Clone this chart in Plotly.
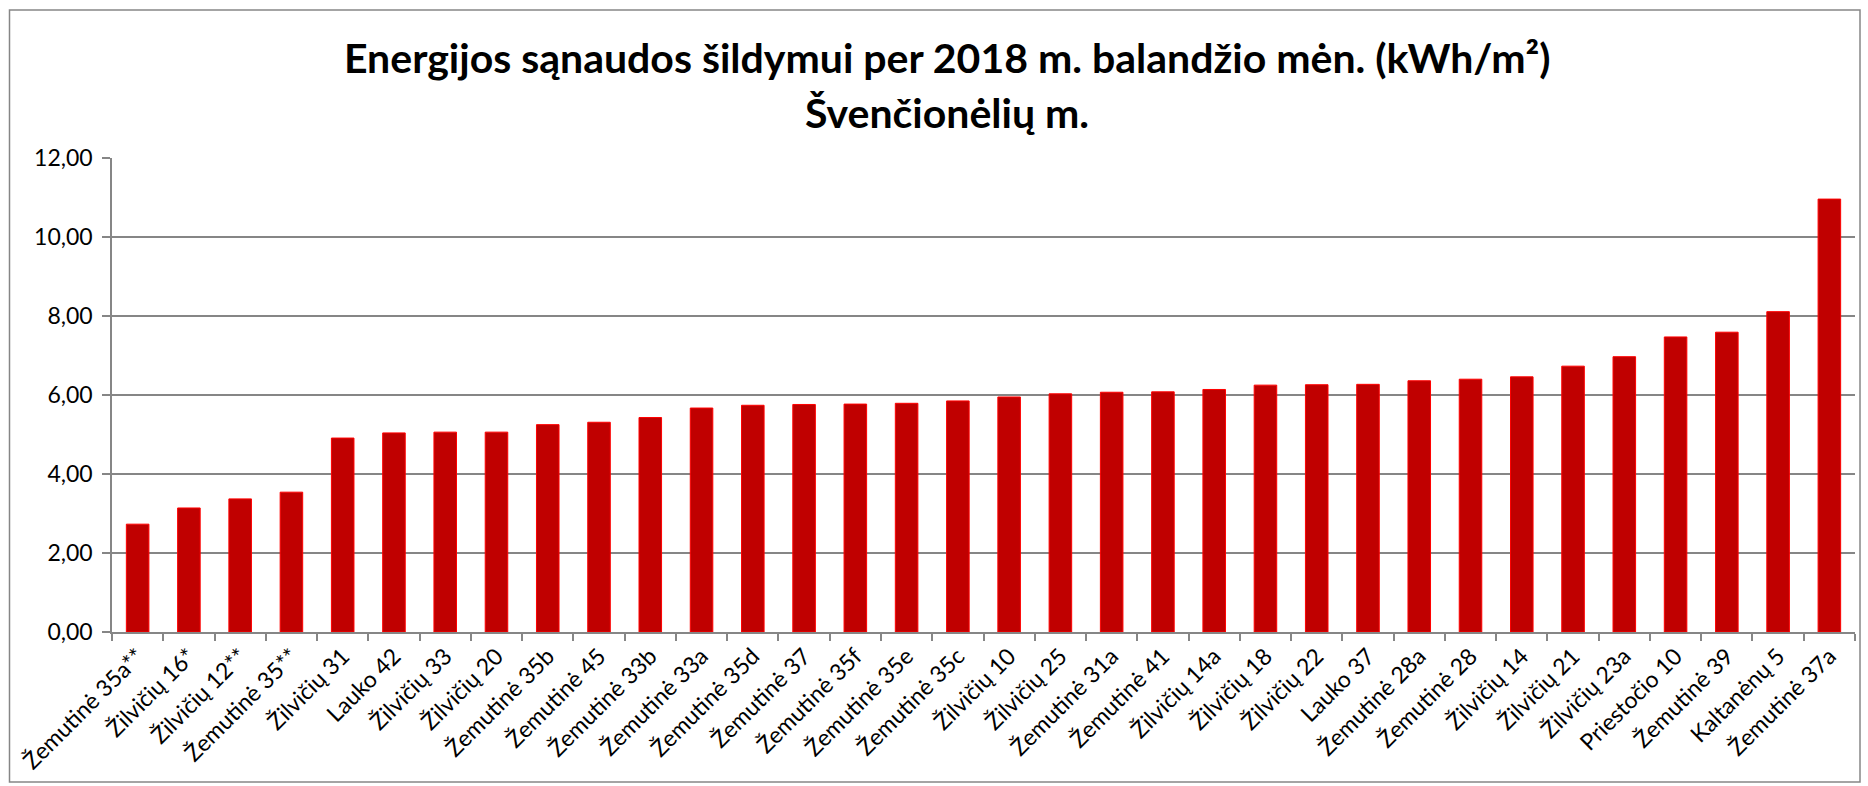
import plotly.graph_objects as go

categories = ["Žemutinė 35a**", "Žilvičių 16*", "Žilvičių 12**", "Žemutinė 35**", "Žilvičių 31",
              "Lauko 42", "Žilvičių 33", "Žilvičių 20", "Žemutinė 35b", "Žemutinė 45",
              "Žemutinė 33b", "Žemutinė 33a", "Žemutinė 35d", "Žemutinė 37", "Žemutinė 35f",
              "Žemutinė 35e", "Žemutinė 35c", "Žilvičių 10", "Žilvičių 25", "Žemutinė 31a",
              "Žemutinė 41", "Žilvičių 14a", "Žilvičių 18", "Žilvičių 22", "Lauko 37",
              "Žemutinė 28a", "Žemutinė 28", "Žilvičių 14", "Žilvičių 21", "Žilvičių 23a",
              "Priestočio 10", "Žemutinė 39", "Kaltanėnų 5", "Žemutinė 37a"]
values = [2.73, 3.14, 3.37, 3.54, 4.91,
          5.04, 5.06, 5.06, 5.25, 5.31,
          5.43, 5.67, 5.74, 5.76, 5.77,
          5.79, 5.85, 5.95, 6.03, 6.07,
          6.08, 6.14, 6.25, 6.26, 6.27,
          6.36, 6.40, 6.46, 6.73, 6.97,
          7.47, 7.59, 8.11, 10.96]
title_line1 = "Energijos sąnaudos šildymui per 2018 m. balandžio mėn. (kWh/m²)"
title_line2 = "Švenčionėlių m."
y_ticks = [0, 2, 4, 6, 8, 10, 12]

W, H = 1868, 786
L, R, T, B = 112, 13, 158, 154

FONT = "Lato"
fig = go.Figure()
fig.add_trace(go.Bar(
    x=categories, y=values,
    marker=dict(color="#C00000", line=dict(color="#FF0000", width=1)),
))

fig.update_layout(
    width=W, height=H,
    margin=dict(l=L, r=R, t=T, b=B),
    plot_bgcolor="white", paper_bgcolor="white",
    bargap=0.56,
    showlegend=False,
    separators=", ",
    font=dict(family=FONT, color="black"),
    xaxis=dict(
        type="category", tickangle=-45, tickfont=dict(size=23, family=FONT),
        showline=True, linecolor="#868686", linewidth=1.5,
        ticks="outside", ticklen=7, tickcolor="#868686", tickwidth=1.5,
        tickson="boundaries", showgrid=False, automargin=False,
    ),
    yaxis=dict(
        range=[0, 12], tickvals=y_ticks, tickformat=".2f",
        tickfont=dict(size=23, family=FONT),
        showline=True, linecolor="#868686", linewidth=1.5,
        ticks="outside", ticklen=8, tickcolor="#868686", tickwidth=1.5,
        ticklabelstandoff=5,
        showgrid=True, gridcolor="#868686", gridwidth=1.5,
        zeroline=False, automargin=False,
    ),
)

pw = W - L - R
ph = H - T - B
def px_x(x):
    return (x - L) / pw
def px_y(y):
    return (H - B - y) / ph

fig.add_annotation(text="<b>" + title_line1 + "</b>", x=px_x(947), y=px_y(57), xref="paper", yref="paper",
                   showarrow=False, xanchor="center", yanchor="middle", font=dict(size=41, family=FONT))
fig.add_annotation(text="<b>" + title_line2 + "</b>", x=px_x(947), y=px_y(113), xref="paper", yref="paper",
                   showarrow=False, xanchor="center", yanchor="middle", font=dict(size=41, family=FONT))

fig.add_shape(type="rect", xref="paper", yref="paper",
              x0=px_x(9.5), x1=px_x(1860), y0=px_y(782), y1=px_y(10),
              line=dict(color="#868686", width=1.5), fillcolor="rgba(0,0,0,0)", layer="below")

fig.write_html("out.html", config={"displayModeBar": False},
               post_script="document.body.style.margin='0';document.body.style.overflow='hidden';")
